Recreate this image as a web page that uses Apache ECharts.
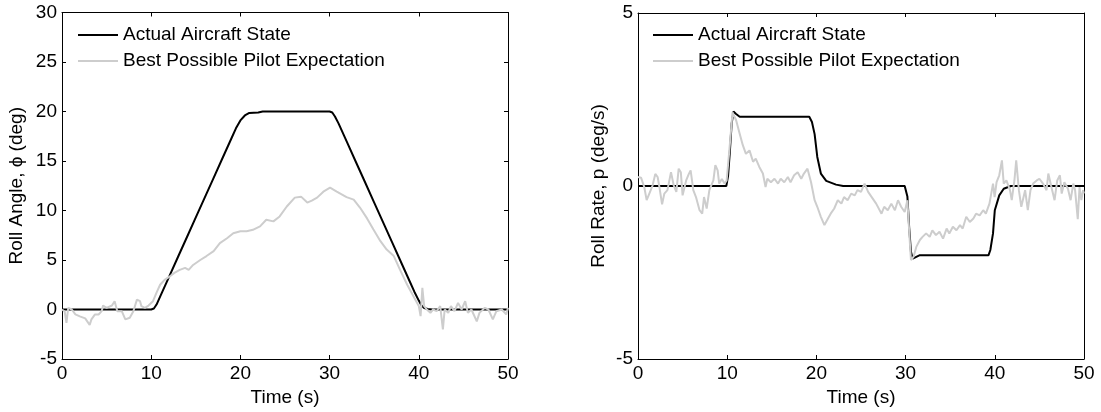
<!DOCTYPE html>
<html>
<head>
<meta charset="utf-8">
<script src="https://cdn.jsdelivr.net/npm/echarts@6/dist/echarts.min.js"></script>
<style>
html,body{margin:0;padding:0;background:#fff;}
#chart{width:1101px;height:412px;}
</style>
</head>
<body>
<div id="chart"></div>
<script>
// ---------- data ----------
const seriesNames = ['Actual Aircraft State', 'Best Possible Pilot Expectation'];
const xTicks = [0, 10, 20, 30, 40, 50];
const angleTicks = [-5, 0, 5, 10, 15, 20, 25, 30];
const rateTicks = [-5, 0, 5];

// Roll angle, actual (time s, deg)
const angleActualT = [0, 10, 10.3, 10.6, 11, 12, 13, 14, 15, 16, 17, 18, 19, 19.5, 20, 20.5, 21, 22, 22.5, 30, 30.3, 30.6, 31, 32, 33, 34, 35, 36, 37, 38, 39, 39.5, 40, 40.3, 40.6, 41, 41.5, 50];
const angleActualV = [0, 0, 0.1, 0.5, 1.3, 3.3, 5.3, 7.3, 9.3, 11.3, 13.3, 15.3, 17.3, 18.3, 19.1, 19.6, 19.85, 19.9, 20, 20, 19.9, 19.5, 18.8, 16.8, 14.8, 12.8, 10.8, 8.8, 6.8, 4.8, 2.8, 1.8, 0.9, 0.4, 0.15, 0.05, 0, 0];

// Roll angle, pilot expectation
const angleExpT = [0, 0.3, 0.5, 0.7, 1.1, 1.5, 2.0, 2.6, 3.1, 3.3, 3.7, 4.1, 4.45, 4.6, 5.0, 5.6, 5.9, 6.2, 6.7, 7.1, 7.6, 8.0, 8.4, 8.75, 8.9, 9.3, 9.7, 10.2, 10.6, 11.0, 11.5, 12.1, 12.6, 13.2, 13.8, 14.2, 14.7, 15.5, 16.2, 17.0, 17.7, 18.5, 19.2, 20.0, 20.7, 21.4, 22.2, 22.9, 23.7, 24.4, 25.2, 26.1, 26.8, 27.5, 28.0, 28.6, 29.3, 30.05, 30.8, 31.9, 32.7, 33.4, 34.2, 34.9, 35.7, 36.4, 37.2, 37.9, 38.7, 39.4, 40.0, 40.2, 40.4, 40.6, 40.9, 41.3, 41.6, 42.0, 42.4, 42.7, 42.9, 43.3, 43.6, 44.0, 44.4, 44.8, 45.2, 45.5, 45.9, 46.5, 46.8, 47.4, 47.8, 48.3, 48.7, 49.3, 49.8, 50];
const angleExpV = [0, -0.2, -1.35, 0.17, 0, -0.5, -0.7, -0.9, -1.55, -1.0, -0.5, -0.5, -0.17, 0.4, 0.17, 0.4, 0.84, -0.17, -0.17, -1.0, -0.84, -0.17, 1.0, 0.84, 0.34, 0.17, 0.4, 0.84, 1.7, 2.5, 3.0, 3.35, 3.7, 4.0, 4.2, 4.0, 4.5, 5.0, 5.4, 5.9, 6.7, 7.2, 7.7, 7.9, 7.9, 8.05, 8.4, 9.07, 8.9, 9.4, 10.4, 11.3, 11.4, 10.8, 11.0, 11.3, 11.9, 12.3, 11.9, 11.35, 11.1, 10.3, 9.2, 8.1, 6.9, 6.05, 5.4, 4.0, 2.5, 1.34, 0.34, -0.67, 2.18, 0.34, 0, -0.33, 0, -0.17, 0.34, -2.0, 0, -0.33, 0.34, -0.17, 0.67, 0, 0.84, -0.34, 0, -1.2, -0.34, 0.17, 0, -1.0, -0.17, 0, -0.5, 0.17];

// Roll rate, actual (time s, deg/s)
const rateActualT = [0, 9.9, 10.1, 10.3, 10.5, 10.7, 11.0, 11.4, 19.2, 19.5, 19.8, 20.1, 20.5, 21.1, 22.2, 23, 29.9, 30.2, 30.4, 30.6, 30.8, 31.2, 31.6, 39.3, 39.5, 39.8, 40.0, 40.5, 41.0, 41.8, 50];
const rateActualV = [0, 0, 0.3, 1.0, 1.8, 2.15, 2.08, 2.0, 2.0, 1.85, 1.5, 0.84, 0.36, 0.15, 0.04, 0, 0, -0.3, -1.2, -1.9, -2.1, -2.05, -2.0, -2.0, -1.85, -1.37, -0.7, -0.27, -0.08, 0, 0];

// Roll rate, pilot expectation
const rateExpT = [0.0, 0.34, 0.7, 0.97, 1.27, 1.64, 1.94, 2.2, 2.4, 2.7, 2.95, 3.3, 3.7, 4.0, 4.3, 4.56, 4.8, 5.0, 5.4, 5.7, 5.9, 6.2, 6.5, 6.9, 7.2, 7.4, 7.7, 8.0, 8.3, 8.45, 8.67, 8.93, 9.1, 9.4, 9.7, 9.94, 10.24, 10.6, 11.0, 11.4, 11.75, 12.1, 12.5, 12.9, 13.2, 13.6, 14.0, 14.3, 14.5, 14.9, 15.3, 15.7, 16.0, 16.4, 16.8, 17.1, 17.5, 17.9, 18.3, 18.6, 19.0, 19.4, 19.8, 20.1, 20.5, 20.9, 21.3, 21.6, 22.0, 22.4, 22.8, 23.1, 23.5, 23.9, 24.3, 24.6, 25.0, 25.4, 25.8, 26.2, 26.7, 27.3, 27.6, 28.0, 28.4, 28.8, 29.15, 29.5, 29.9, 30.2, 30.46, 30.6, 30.9, 31.2, 31.6, 31.9, 32.3, 32.7, 33.0, 33.4, 33.8, 34.2, 34.6, 34.9, 35.3, 35.7, 36.1, 36.4, 36.8, 37.2, 37.6, 37.9, 38.3, 38.7, 39.0, 39.4, 39.8, 39.98, 40.2, 40.5, 40.8, 41.0, 41.3, 41.7, 41.9, 42.2, 42.4, 42.7, 42.97, 43.4, 43.7, 44.0, 44.3, 44.7, 45.0, 45.4, 45.8, 46.0, 46.3, 46.7, 47.0, 47.3, 47.5, 47.8, 48.2, 48.5, 48.8, 49.0, 49.3, 49.5, 49.7, 49.9, 50.0];
const rateExpV = [0.26, 0.24, -0.03, -0.41, -0.22, 0.02, 0.35, 0.26, -0.03, -0.53, -0.22, -0.12, 0.4, 0.02, -0.17, 0.5, 0.4, -0.27, 0.16, 0.35, 0.45, -0.12, -0.32, -0.7, -0.8, -0.32, -0.65, -0.12, 0.07, 0.16, 0.6, 0.45, 0.07, 0.2, 0.07, 0.16, 1.03, 2.13, 1.9, 1.51, 1.18, 0.93, 1.03, 0.7, 0.79, 0.55, 0.36, -0.03, 0.21, 0.11, 0.21, 0.07, 0.21, 0.11, 0.26, 0.11, 0.31, 0.4, 0.21, 0.36, 0.5, 0.11, -0.41, -0.6, -0.89, -1.13, -0.94, -0.8, -0.65, -0.41, -0.51, -0.32, -0.41, -0.22, -0.27, -0.12, -0.17, 0.07, -0.17, -0.32, -0.51, -0.8, -0.6, -0.7, -0.51, -0.7, -0.41, -0.6, -0.75, -0.41, -1.56, -2.14, -2.04, -1.76, -1.56, -1.47, -1.37, -1.47, -1.28, -1.42, -1.32, -1.52, -1.23, -1.37, -1.18, -1.28, -1.13, -1.23, -0.89, -1.04, -0.94, -0.8, -0.85, -0.7, -0.8, -0.51, 0.07, -0.32, 0.11, 0.31, 0.74, 0.07, 0.16, -0.12, -0.41, 0.16, 0.74, -0.12, -0.6, -0.12, -0.7, -0.12, 0.07, 0.16, 0.21, 0.07, -0.12, 0.36, 0.02, -0.41, 0.16, 0.31, -0.22, 0.11, -0.08, -0.41, 0.07, -0.12, -0.96, -0.03, -0.41, -0.12, -0.22];

// ---------- chart ----------
const zip = (t, v) => t.map((x, i) => [x, v[i]]);
const FONT = 'Liberation Sans, Arial, sans-serif';
const BLACK = '#000000';
const GRAY = '#cdcdcd';
const FS = 19;

const chart = echarts.init(document.getElementById('chart'), null, {renderer: 'canvas'});

function xAxisPair(gi) {
  const base = {
    type: 'value', gridIndex: gi, min: xTicks[0], max: xTicks[xTicks.length - 1], interval: 10,
    splitLine: {show: false},
    axisLine: {show: true, onZero: false, lineStyle: {color: BLACK, width: 1}},
    axisTick: {show: true, inside: true, length: 4, lineStyle: {color: BLACK}},
  };
  return [
    Object.assign({}, base, {
      position: 'bottom',
      name: 'Time (s)', nameLocation: 'middle', nameGap: 29,
      nameTextStyle: {color: BLACK, fontSize: FS, fontFamily: FONT},
      axisLabel: {show: true, color: BLACK, fontSize: FS, fontFamily: FONT, margin: 5},
    }),
    Object.assign({}, base, {position: 'top', axisLabel: {show: false}})
  ];
}

function yAxisPair(gi, ticks, name, gap) {
  const base = {
    type: 'value', gridIndex: gi, min: ticks[0], max: ticks[ticks.length - 1], interval: 5,
    splitLine: {show: false},
    axisLine: {show: true, onZero: false, lineStyle: {color: BLACK, width: 1}},
    axisTick: {show: true, inside: true, length: 4, lineStyle: {color: BLACK}},
  };
  return [
    Object.assign({}, base, {
      position: 'left',
      name: name, nameLocation: 'middle', nameGap: gap, nameRotate: 90,
      nameTextStyle: {color: BLACK, fontSize: FS, fontFamily: FONT},
      axisLabel: {show: true, color: BLACK, fontSize: FS, fontFamily: FONT, margin: 5},
    }),
    Object.assign({}, base, {position: 'right', axisLabel: {show: false}})
  ];
}

function legendAt(left) {
  return {
    left: left, top: 24, orient: 'vertical', icon: 'rect', padding: 0,
    itemWidth: 40, itemHeight: 2, itemGap: 4,
    textStyle: {color: BLACK, fontSize: FS, fontFamily: FONT, lineHeight: 22},
    data: seriesNames.map(n => ({name: n})),
    selectedMode: false
  };
}

function line(name, data, xi, yi, color) {
  return {
    type: 'line', name: name, data: data, xAxisIndex: xi, yAxisIndex: yi,
    showSymbol: false, symbol: 'none', smooth: false,
    lineStyle: {color: color, width: 2}, itemStyle: {color: color},
    z: color === GRAY ? 3 : 2
  };
}

const option = {
  animation: false,
  backgroundColor: '#ffffff',
  grid: [
    {left: 62, top: 12.5, width: 446, height: 347.5},
    {left: 638, top: 13, width: 446, height: 347}
  ],
  xAxis: [...xAxisPair(0), ...xAxisPair(1)],
  yAxis: [...yAxisPair(0, angleTicks, 'Roll Angle, \u03D5 (deg)', 36), ...yAxisPair(1, rateTicks, 'Roll Rate, p (deg/s)', 30)],
  legend: [legendAt(78), legendAt(653)],
  series: [
    line(seriesNames[0], zip(angleActualT, angleActualV), 0, 0, BLACK),
    line(seriesNames[1], zip(angleExpT, angleExpV), 0, 0, GRAY),
    line(seriesNames[0], zip(rateActualT, rateActualV), 2, 2, BLACK),
    line(seriesNames[1], zip(rateExpT, rateExpV), 2, 2, GRAY)
  ]
};
chart.setOption(option);
</script>
</body>
</html>
